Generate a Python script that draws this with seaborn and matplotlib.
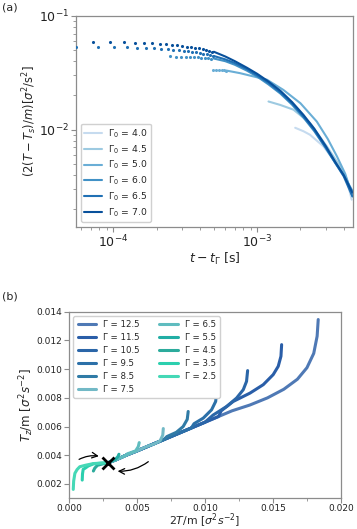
import matplotlib
matplotlib.use("Agg")

import matplotlib.pyplot as plt
import matplotlib.ticker as mticker
import pandas as pd
import seaborn as sns

sns.set_style("ticks")
plt.rcParams["font.family"] = ["DejaVu Sans"]
plt.rcParams["mathtext.fontset"] = "dejavusans"

# ---- panel (a): relaxation of the granular temperature -------------------
GAMMA0 = [4.0, 4.5, 5.0, 6.0, 6.5, 7.0]

# sparse early samples (drawn as dots)
DOT_T = {
    7.0: [7.2e-5, 9.5e-5, 1.18e-4, 1.41e-4, 1.64e-4, 1.87e-4, 2.10e-4, 2.33e-4, 2.56e-4,
          2.79e-4, 3.02e-4, 3.25e-4, 3.48e-4, 3.71e-4, 3.94e-4, 4.17e-4, 4.40e-4, 4.63e-4, 4.86e-4],
    6.5: [5.5e-5, 7.8e-5, 1.01e-4, 1.24e-4, 1.47e-4, 1.70e-4, 1.93e-4, 2.16e-4, 2.39e-4, 2.62e-4,
          2.85e-4, 3.08e-4, 3.31e-4, 3.54e-4, 3.77e-4, 4.00e-4, 4.23e-4, 4.46e-4, 4.69e-4, 4.92e-4],
    6.0: [2.49e-4, 2.72e-4, 2.95e-4, 3.18e-4, 3.41e-4, 3.64e-4, 3.87e-4, 4.10e-4, 4.33e-4, 4.56e-4, 4.79e-4],
    5.0: [4.97e-4, 5.20e-4, 5.43e-4, 5.66e-4, 5.89e-4, 6.12e-4],
}
DOT_Y = {
    7.0: [0.0591, 0.0589, 0.0586, 0.0582, 0.0577, 0.0572, 0.0567, 0.0561, 0.0556,
          0.0550, 0.0544, 0.0538, 0.0531, 0.0524, 0.0517, 0.0510, 0.0502, 0.0494, 0.0486],
    6.5: [0.0536, 0.0534, 0.0531, 0.0528, 0.0525, 0.0521, 0.0517, 0.0513, 0.0509, 0.0504,
          0.0499, 0.0494, 0.0489, 0.0483, 0.0477, 0.0471, 0.0465, 0.0458, 0.0451, 0.0444],
    6.0: [0.0440, 0.0439, 0.0438, 0.0437, 0.0436, 0.0434, 0.0432, 0.0430, 0.0428, 0.0425, 0.0422],
    5.0: [0.0336, 0.0335, 0.0334, 0.0333, 0.0332, 0.0331],
}

# dense part (drawn as lines)
T_LATE = [5.0e-4, 6.0e-4, 7.0e-4, 8.5e-4, 1.0e-3, 1.2e-3, 1.45e-3, 1.75e-3, 2.1e-3, 2.5e-3,
          3.0e-3, 3.5e-3, 4.0e-3, 4.6e-3]
LINE_T = {
    7.0: T_LATE,
    6.5: T_LATE,
    6.0: T_LATE,
    5.0: [6.1e-4, 7.6e-4, 1.17e-3, 1.52e-3, 2.0e-3, 2.6e-3, 3.1e-3, 3.6e-3, 4.1e-3, 4.6e-3],
    4.5: [1.20e-3, 1.45e-3, 1.79e-3, 2.33e-3, 3.05e-3, 3.77e-3, 4.2e-3, 4.6e-3],
    4.0: [1.84e-3, 2.1e-3, 2.33e-3, 2.89e-3, 3.39e-3, 3.8e-3, 4.2e-3, 4.55e-3],
}
LINE_Y = {
    7.0: [0.0484, 0.0440, 0.0400, 0.0350, 0.0310, 0.0265, 0.0220, 0.0175, 0.0135, 0.0102,
          0.0072, 0.0052, 0.0040, 0.0028],
    6.5: [0.0444, 0.0415, 0.0385, 0.0340, 0.0300, 0.0258, 0.0213, 0.0170, 0.0131, 0.0099,
          0.0070, 0.0051, 0.0039, 0.0026],
    6.0: [0.0422, 0.0400, 0.0372, 0.0330, 0.0293, 0.0250, 0.0208, 0.0166, 0.0128, 0.0097,
          0.0069, 0.0051, 0.0040, 0.0029],
    5.0: [0.0331, 0.0314, 0.0275, 0.0224, 0.0171, 0.0118, 0.0083, 0.0058, 0.0041, 0.0026],
    4.5: [0.0177, 0.0165, 0.0150, 0.01146, 0.00715, 0.00477, 0.0037, 0.0026],
    4.0: [0.0104, 0.0097, 0.00904, 0.00715, 0.00546, 0.0045, 0.00364, 0.00243],
}

# ---- panel (b): T_z vs 2T trajectories --------------------------------------
GAMMA = [12.5, 11.5, 10.5, 9.5, 8.5, 7.5, 6.5, 5.5, 4.5, 3.5, 2.5]
COLORS_B = ["#4f79b5", "#2a5ea8", "#2b66a8", "#2c70a8", "#307ba6", "#72b9c6",
            "#5fbcbf", "#22aea5", "#2cab9c", "#2ccfae", "#45d8b6"]

# common trunk (the Gamma = 12.5 trajectory)
TRUNK_X = [0.01833, 0.01825, 0.0180, 0.0175, 0.0168, 0.0158, 0.0146, 0.0133, 0.0120, 0.0110,
           0.0100, 0.0090, 0.0080, 0.0070, 0.0060, 0.0050, 0.0042, 0.0035, 0.0029]
TRUNK_Y = [0.01346, 0.0123, 0.0111, 0.0101, 0.0093, 0.0086, 0.0080, 0.0075, 0.0071, 0.0067,
           0.0063, 0.0059, 0.0055, 0.0051, 0.0047, 0.0043, 0.0040, 0.0037, 0.00348]

BRANCH_X = {
    11.5: [0.01564, 0.01559, 0.01539, 0.01502, 0.01429, 0.01331, 0.01208, 0.0112],
    10.5: [0.01314, 0.01306, 0.01282, 0.01233, 0.0116, 0.0106],
    9.5: [0.01086, 0.01079, 0.01049, 0.00988, 0.0092],
    8.5: [0.00877, 0.0087, 0.0084, 0.0079, 0.0072],
    7.5: [0.00694, 0.0069, 0.0067, 0.0063, 0.0057],
    6.5: [0.00517, 0.0051, 0.0049, 0.0046, 0.0043],
    5.5: [0.00368, 0.0036, 0.0034, 0.0031, 0.0029],
    4.5: [0.0018, 0.0019, 0.0021, 0.0025, 0.0029],
    3.5: [0.00098, 0.0010, 0.00105, 0.0012, 0.00142, 0.0018, 0.0024, 0.0029],
    2.5: [0.00032, 0.00035, 0.00044, 0.0006, 0.0008, 0.0012, 0.0018, 0.0023, 0.0029],
}
BRANCH_Y = {
    11.5: [0.01171, 0.0109, 0.0102, 0.00962, 0.00892, 0.00833, 0.00775, 0.0071],
    10.5: [0.0099, 0.00915, 0.00857, 0.00799, 0.0074, 0.0068],
    9.5: [0.00838, 0.00775, 0.00717, 0.00659, 0.0062],
    8.5: [0.00705, 0.0065, 0.0060, 0.0056, 0.0053],
    7.5: [0.00586, 0.0054, 0.0050, 0.0048, 0.0046],
    6.5: [0.00488, 0.0046, 0.0043, 0.0042, 0.0041],
    5.5: [0.00407, 0.0039, 0.0037, 0.0036, 0.00348],
    4.5: [0.0029, 0.0031, 0.0033, 0.0034, 0.00348],
    3.5: [0.00227, 0.0027, 0.00302, 0.0031, 0.00325, 0.0034, 0.00345, 0.00348],
    2.5: [0.00162, 0.0022, 0.00274, 0.0030, 0.0032, 0.0033, 0.00342, 0.00345, 0.00348],
}
FIXED_POINT = (0.00289, 0.00348)


def style_axes(ax, labelsize):
    for s in ax.spines.values():
        s.set_color("#8c8c8c")
        s.set_linewidth(0.9)
    ax.tick_params(which="both", colors="#8c8c8c", labelcolor="#222222",
                   labelsize=labelsize, pad=1.5)
    ax.tick_params(which="major", length=3.5)
    ax.tick_params(which="minor", length=2)


fig = plt.figure(figsize=(3.57, 5.29), dpi=100)
ax1 = fig.add_axes([0.213, 0.571, 0.776, 0.399])
ax2 = fig.add_axes([0.193, 0.0586, 0.762, 0.352])

# panel (a)
pal_a = sns.color_palette("Blues", 7)[1:]
for g, c in zip(GAMMA0, pal_a):
    if g in DOT_T:
        sns.scatterplot(x=DOT_T[g], y=DOT_Y[g], ax=ax1, color=c, s=5, linewidth=0,
                        legend=False, zorder=3)
for g, c in zip(GAMMA0, pal_a):
    sns.lineplot(x=LINE_T[g], y=LINE_Y[g], ax=ax1, color=c, lw=1.5, sort=False,
                 estimator=None, label=rf"$\Gamma_0$ = {g:.1f}")
ax1.set_xscale("log")
ax1.set_yscale("log")
ax1.set_xlim(5.5e-5, 4.65e-3)
ax1.set_ylim(1.4e-3, 0.1)
style_axes(ax1, 9)
ax1.set_xlabel(r"$t - t_\Gamma$ [s]", fontsize=9, labelpad=0)
ax1.set_ylabel(r"$(2(T-T_s)/m)[\sigma^2/\mathrm{s}^2]$", fontsize=8.3, labelpad=0)
ax1.legend(loc="lower left", fontsize=6.7, handlelength=1.9, labelspacing=0.35,
           borderpad=0.4, handletextpad=0.6, framealpha=1, edgecolor="#d0d0d0")

# panel (b)
rows = []
for g in GAMMA:
    if g == 12.5:
        xs, ys = TRUNK_X, TRUNK_Y
    else:
        bx, by = BRANCH_X[g], BRANCH_Y[g]
        tail = [(x, y) for x, y in zip(TRUNK_X, TRUNK_Y) if x < bx[-1] and bx[0] > FIXED_POINT[0]]
        xs = bx + [p[0] for p in tail]
        ys = by + [p[1] for p in tail]
    for x, y in zip(xs, ys):
        rows.append({"gamma": f"Γ = {g}", "x": x, "y": y})
df_b = pd.DataFrame(rows)
labels_b = [f"Γ = {g}" for g in GAMMA]
sns.lineplot(data=df_b, x="x", y="y", hue="gamma", hue_order=labels_b, palette=COLORS_B,
             sort=False, estimator=None, units="gamma", lw=2.2, ax=ax2)
ax2.plot(*FIXED_POINT, marker="x", color="black", ms=8, mew=2, zorder=5)
ax2.annotate("", xy=(0.0024, 0.0039), xytext=(0.00057, 0.00362),
             arrowprops=dict(arrowstyle="->", color="black", lw=0.9,
                             connectionstyle="arc3,rad=-0.2"))
ax2.annotate("", xy=(0.00338, 0.0029), xytext=(0.0060, 0.00367),
             arrowprops=dict(arrowstyle="->", color="black", lw=0.9,
                             connectionstyle="arc3,rad=-0.2"))
ax2.set_xlim(0, 0.020)
ax2.set_ylim(0.00102, 0.014)
ax2.set_xticks([0.0, 0.005, 0.010, 0.015, 0.020])
ax2.set_xticks([0.0025, 0.0075, 0.0125, 0.0175], minor=True)
ax2.set_yticks([0.002, 0.004, 0.006, 0.008, 0.010, 0.012, 0.014])
ax2.xaxis.set_major_formatter(mticker.FormatStrFormatter("%.3f"))
ax2.yaxis.set_major_formatter(mticker.FormatStrFormatter("%.3f"))
style_axes(ax2, 6.5)
ax2.tick_params(axis="x", pad=1)
ax2.set_xlabel(r"$2T$/m [$\sigma^2 s^{-2}$]", fontsize=7.8, labelpad=-1)
ax2.set_ylabel(r"$T_z$/m [$\sigma^2 s^{-2}$]", fontsize=8.5, labelpad=0)
ax2.legend(loc="upper left", ncol=2, fontsize=6.2, handlelength=2.2, labelspacing=0.45,
           columnspacing=2.2, borderpad=0.5, framealpha=1, edgecolor="#d0d0d0", title=None)

fig.text(0.005, 0.985, "(a)", fontsize=8, va="center")
fig.text(0.005, 0.440, "(b)", fontsize=8, va="center")

fig.savefig("out.png", dpi=100)
